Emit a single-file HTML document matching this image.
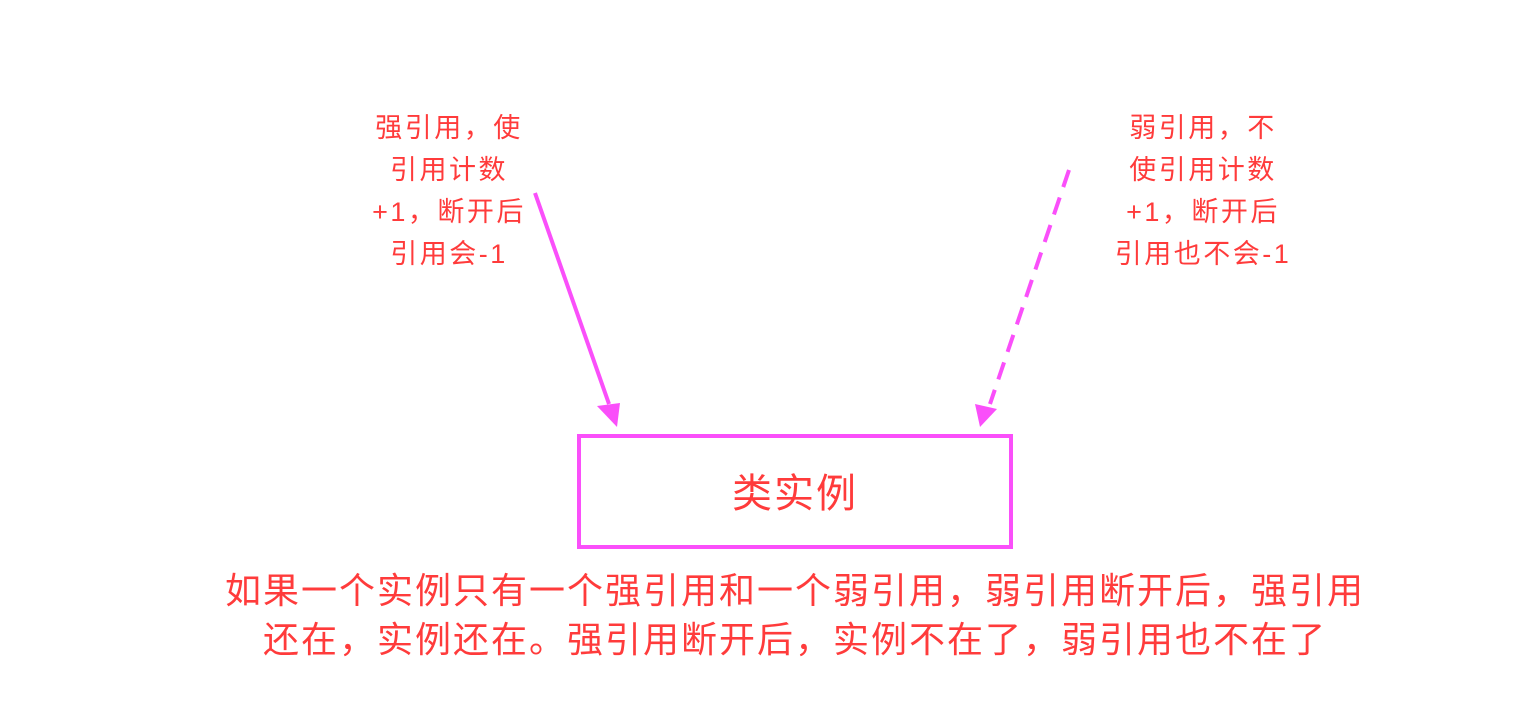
<!DOCTYPE html>
<html><head><meta charset="utf-8"><style>
html,body{margin:0;padding:0;background:#fff;}
svg{display:block}
text{font-family:"Liberation Sans","Noto Sans CJK SC",sans-serif;fill:#ff3b3b;}
</style></head><body>
<svg width="1516" height="724" viewBox="0 0 1516 724" xmlns="http://www.w3.org/2000/svg">
<rect x="579" y="436" width="432" height="111" fill="#fff" stroke="#fa4ffa" stroke-width="4"/>
<text x="795" y="507" font-size="40" text-anchor="middle" letter-spacing="2">类实例</text>
<g font-size="27" text-anchor="middle" letter-spacing="2.5">
<text x="449" y="137">强引用，使</text>
<text x="449" y="179">引用计数</text>
<text x="449" y="221">+1，断开后</text>
<text x="449" y="263">引用会-1</text>
<text x="1203" y="137">弱引用，不</text>
<text x="1203" y="179">使引用计数</text>
<text x="1203" y="221">+1，断开后</text>
<text x="1203" y="263">引用也不会-1</text>
</g>
<g font-size="36" text-anchor="middle" letter-spacing="2">
<text x="795" y="603">如果一个实例只有一个强引用和一个弱引用，弱引用断开后，强引用</text>
<text x="795" y="652">还在，实例还在。强引用断开后，实例不在了，弱引用也不在了</text>
</g>
<line x1="535" y1="193" x2="609" y2="404" stroke="#fa4ffa" stroke-width="4"/>
<polygon points="597,406 620,403 617,427" fill="#fa4ffa"/>
<line x1="1069" y1="170" x2="990" y2="404" stroke="#fa4ffa" stroke-width="4" stroke-dasharray="18,11"/>
<polygon points="975,404 997,409 980,427" fill="#fa4ffa"/>
</svg>
</body></html>
